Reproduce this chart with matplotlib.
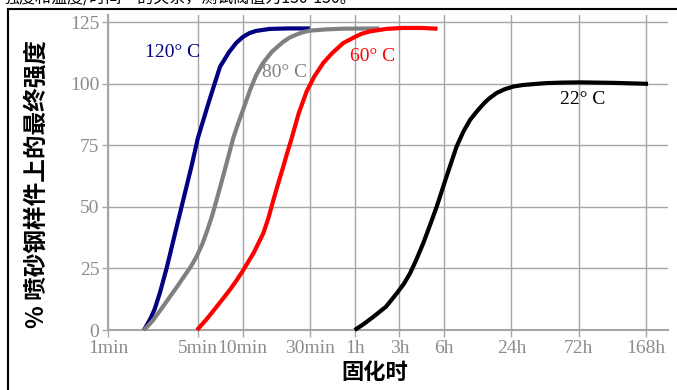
import numpy as np
from matplotlib import pyplot as plt
from matplotlib.patches import Rectangle

# %% data (x in axis units of the custom time scale)
tick_pos = [0, 4, 6, 9, 11, 13, 15, 18, 21, 24]
tick_labels = ['1min', '5min', '10min', '30min', '1h', '3h', '6h', '24h', '72h', '168h']
y_ticks = [0, 25, 50, 75, 100, 125]

x_120 = [1.59, 1.75, 1.9, 2.07, 2.3, 2.6, 3.0, 3.35, 3.7, 4.0, 4.5, 4.99, 5.4, 5.7, 6.0, 6.3, 6.6, 7.2, 8.0, 9.0]
y_120 = [0, 2.5, 5, 8.5, 15, 25, 40, 53, 66, 78, 93, 107, 113, 116.5, 119, 120.6, 121.5, 122.3, 122.5, 122.5]

x_80 = [1.59, 1.8, 2.0, 2.4, 2.75, 3.1, 3.4, 3.7, 3.95, 4.2, 4.4, 4.62, 4.84, 5.2, 5.58, 5.8, 6.0, 6.33,
        6.6, 6.91, 7.3, 7.8, 8.1, 8.4, 8.7, 9.0, 9.7, 10.5, 12.1]
y_80 = [0, 2, 4, 9, 13.5, 18, 22, 26, 30, 35, 40, 46, 53, 65, 78, 84, 89, 97.5,
        103.5, 108.5, 113, 117, 118.8, 120, 121, 121.6, 122.1, 122.4, 122.5]

x_60 = [3.96, 4.4, 4.84, 5.1, 5.4, 5.7, 6.03, 6.5, 6.92, 7.15, 7.37, 7.6, 7.8, 8.0, 8.19, 8.5, 8.86, 9.2,
        9.6, 10.0, 10.48, 11.0, 11.3, 11.68, 12.4, 13.15, 14.0, 14.7]
y_60 = [0, 4.5, 9.5, 12.5, 16, 19.8, 24.4, 31.5, 39.3, 45.5, 52.8, 60, 66, 72.3, 78, 88, 97, 103,
        108.5, 112.5, 116.5, 119, 120.3, 121.3, 122.3, 122.7, 122.7, 122.4]

x_22 = [11.0, 11.4, 11.84, 12.4, 12.88, 13.2, 13.47, 13.75, 14.06, 14.36, 14.66, 15.1, 15.55, 15.85, 16.15,
        16.4, 16.6, 16.8, 17.0, 17.34, 17.7, 18.08, 18.5, 19.0, 19.57, 20.3, 21.06, 22.5, 24.1]
y_22 = [0, 2.4, 5.4, 9.5, 14.9, 18.8, 23, 28.5, 35.2, 42.5, 50, 62.3, 74.5, 80.5, 85.3,
        88.2, 90.3, 92.3, 94, 96.3, 97.8, 98.9, 99.5, 99.9, 100.3, 100.5, 100.6, 100.4, 100.0]

series = [
    (x_120, y_120, '#000080', '120° C', (1.64, 112.9)),
    (x_80, y_80, '#808080', '80° C', (6.86, 104.8)),
    (x_60, y_60, '#ff0000', '60° C', (10.79, 110.9)),
    (x_22, y_22, '#000000', '22° C', (20.16, 93.8)),
]

# %%
cjk = ['Noto Sans CJK SC', 'DejaVu Sans']
serif = 'Liberation Serif'
grid_clr = '#a6a6a6'

fig = plt.figure(figsize=(6.77, 3.90), dpi=100)
ax = fig.add_axes([0.16, 0.1538, 0.827, 0.808])

for xs, ys, clr, lab, (tx, ty) in series:
    ax.plot(xs, ys, color=clr, lw=3, solid_capstyle='butt', solid_joinstyle='round', zorder=3, clip_on=False)
    ax.text(tx, ty, lab, color=clr, fontsize=14, family=serif, va='center', ha='left', zorder=4)

ax.set_xlim(0, 25)
ax.set_ylim(0, 128)
ax.set_xticks(tick_pos)
ax.set_xticklabels(tick_labels)
ax.set_yticks(y_ticks)
ax.grid(True, color=grid_clr, lw=1)
ax.set_axisbelow(True)
for s in ['top', 'right']:
    ax.spines[s].set_visible(False)
for s in ['left', 'bottom']:
    ax.spines[s].set_color(grid_clr)
    ax.spines[s].set_linewidth(1.5)
ax.tick_params(axis='x', direction='out', length=5, width=1, color=grid_clr, pad=2,
               labelsize=14, labelcolor='#8c8c8c')
ax.tick_params(axis='y', direction='out', length=4.5, width=1, color=grid_clr, pad=2,
               labelsize=14, labelcolor='#8c8c8c')
for lbl in ax.get_xticklabels() + ax.get_yticklabels():
    lbl.set_family(serif)

fig.text(0.0547, 0.528, '% 喷砂钢样件上的最终强度', rotation=90, ha='center', va='center',
         fontsize=17, fontweight='bold', family=cjk)
fig.text(0.554, 0.046, '固化时', ha='center', va='center', fontsize=16, fontweight='bold', family=cjk)

# frame and cut-off heading text
fig.patches.append(Rectangle((7.5 / 677, -0.1), 1.2, 1 - 8.5 / 390 + 0.1, transform=fig.transFigure,
                             fill=False, ec='black', lw=1.5))
fig.text(3 / 677, 1 + 2 / 390, '强度和温度/时间”的关系，测试阀值为130-150。', ha='left', va='center',
         fontsize=11.5, family=cjk)

plt.savefig('out.png', dpi=100)
